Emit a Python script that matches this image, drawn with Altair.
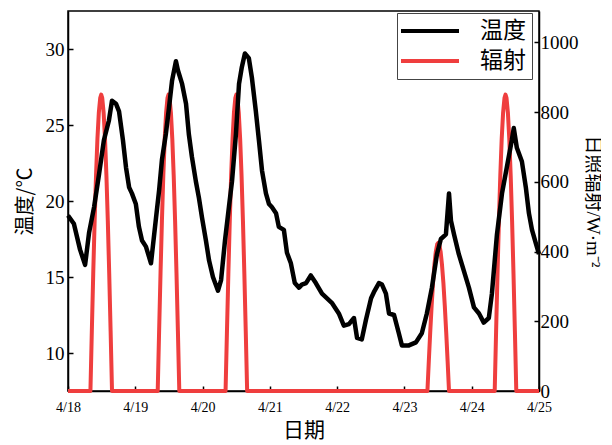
import altair as alt
import pandas as pd

# Temperature (hours since 4/18 00:00, degC)
temp_hours = [0, 2.1, 4.3, 6.1, 7.5, 9.3, 11.1, 12.8, 14.6, 15.7, 17.1, 18.2, 19.6, 20.7, 21.8, 22.8,
              24.2, 25.3, 26.4, 27.8, 29.6, 31.4, 32.5, 33.5, 34.9, 36.0, 37.1, 38.5, 39.2, 40.7, 42.1,
              43.1, 44.2, 45.6, 46.7, 47.8, 49.2, 50.3, 51.7, 53.5, 54.6, 56.0, 57.4, 58.5, 59.9, 61.0,
              62.0, 63.1, 64.5, 65.6, 67.0, 68.1, 69.2, 70.6, 71.7, 72.7, 74.2, 75.2, 77.0, 78.1, 79.5,
              80.9, 82.4, 83.4, 84.9, 86.6, 88.4, 90.6, 94.1, 96.6, 98.4, 100.2, 102.0, 103.1, 104.8,
              106.3, 108.1, 109.1, 110.9, 112.0, 113.4, 114.5, 116.3, 118.0, 119.1, 121.6, 124.1, 126.2,
              128.0, 129.8, 131.6, 133.0, 134.8, 135.9, 136.6, 137.7, 139.4, 141.2, 143.0, 144.8, 146.6,
              148.3, 150.1, 151.2, 153.0, 154.8, 156.5, 158.3, 159.0, 160.1, 161.9, 163.3, 164.4, 165.5,
              166.9, 168.0]
temp_values = [19.05, 18.5, 16.8, 15.8, 17.9, 19.6, 21.8, 24.0, 25.3, 26.6, 26.4, 25.9, 24.0, 22.2, 20.9, 20.5,
               19.8, 18.3, 17.4, 17.0, 15.9, 18.9, 20.7, 22.7, 24.4, 26.1, 27.9, 29.2, 28.6, 27.7, 26.4,
               24.4, 22.9, 21.3, 20.2, 18.9, 17.4, 16.1, 15.0, 14.1, 14.8, 17.4, 19.6, 21.3, 24.4, 27.7,
               28.8, 29.7, 29.4, 28.1, 25.9, 24.0, 22.0, 20.5, 19.8, 19.6, 19.2, 18.3, 18.1, 16.6, 15.9,
               14.6, 14.3, 14.5, 14.6, 15.1, 14.6, 13.9, 13.3, 12.6, 11.8, 11.9, 12.3, 11.0, 10.9,
               12.2, 13.6, 14.0, 14.6, 14.5, 13.9, 12.6, 12.5, 11.3, 10.5, 10.5, 10.7, 11.3,
               12.6, 14.3, 16.5, 17.5, 17.8, 20.5, 18.7, 17.8, 16.5, 15.4, 14.3, 13.0, 12.6,
               12.0, 12.3, 13.9, 17.8, 20.5, 22.2, 24.0, 24.8, 23.5, 22.6, 20.9, 19.2, 18.1,
               17.2, 16.5]

# Solar radiation (hours since 4/18 00:00, W/m2)
rad_hours = [0,
             8.0, 8.5, 9.0, 9.5, 10.0, 10.5, 11.0, 11.5, 11.85, 12.2, 12.7, 13.2, 13.7, 14.2, 14.7, 15.2, 15.7,
             32.0, 32.5, 33.0, 33.5, 34.0, 34.5, 35.0, 35.5, 35.85, 36.2, 36.7, 37.2, 37.7, 38.2, 38.7, 39.2, 39.7,
             56.2, 56.7, 57.2, 57.7, 58.2, 58.7, 59.2, 59.7, 60.05, 60.4, 60.9, 61.4, 61.9, 62.4, 62.9, 63.4, 63.9,
             128.2, 128.7, 129.2, 129.7, 130.2, 130.7, 131.2, 131.7, 132.05, 132.4, 132.9, 133.4, 133.9, 134.4, 134.9, 135.4, 135.9,
             152.2, 152.7, 153.2, 153.7, 154.2, 154.7, 155.2, 155.7, 156.05, 156.4, 156.9, 157.4, 157.9, 158.4, 158.9, 159.4, 159.9,
             168]
rad_values = [0,
              0, 172, 337, 488, 619, 724, 799, 841, 850, 841, 799, 724, 619, 488, 337, 172, 0,
              0, 172, 337, 488, 619, 724, 799, 841, 850, 841, 799, 724, 619, 488, 337, 172, 0,
              0, 172, 337, 488, 619, 724, 799, 841, 850, 841, 799, 724, 619, 488, 337, 172, 0,
              0, 86, 169, 244, 310, 362, 400, 421, 425, 421, 400, 362, 310, 244, 169, 86, 0,
              0, 172, 337, 488, 619, 724, 799, 841, 850, 841, 799, 724, 619, 488, 337, 172, 0,
              0]

series_names = ["温度", "辐射"]
series_colors = ["#000000", "#ef3e3e"]
x_ticks = [0, 24, 48, 72, 96, 120, 144, 168]

temp_df = pd.DataFrame({"h": temp_hours, "v": temp_values, "s": series_names[0]})
rad_df = pd.DataFrame({"h": rad_hours, "v": rad_values, "s": series_names[1]})

SERIF = "Liberation Serif, 'Noto Sans CJK SC'"
CJK = "'Noto Sans CJK SC'"

x_enc = alt.X("h:Q", scale=alt.Scale(domain=[0, 168], nice=False, zero=False),
              axis=alt.Axis(values=x_ticks, labelExpr="'4/' + (18 + datum.value / 24)",
                            title="日期", titleFont=CJK, titleFontSize=21, titleFontWeight="normal",
                            labelFont=SERIF, labelFontSize=14, labelColor="black",
                            tickSize={"expr": "-5"}, labelPadding=14, titlePadding=5,
                            domainColor="black", tickColor="black", grid=False, labelFlush=False))

color_enc = alt.Color("s:N", scale=alt.Scale(domain=series_names, range=series_colors),
                      legend=alt.Legend(title=None, orient="none", legendX=329, legendY=2,
                                        symbolType="M-1.4,0H4.4", symbolSize=400, symbolStrokeWidth=4,
                                        labelFont=CJK, labelFontSize=23, labelColor="black",
                                        strokeColor="#444", padding=6, rowPadding=6,
                                        labelOffset=53))

rad = alt.Chart(rad_df).mark_line(strokeWidth=4, strokeJoin="round").encode(
    x=x_enc,
    y=alt.Y("v:Q", scale=alt.Scale(domain=[0, 1090], nice=False),
            axis=alt.Axis(orient="right", values=[0, 200, 400, 600, 800, 1000], format="d",
                          title="日照辐射/W·m⁻²", titleFont=SERIF, titleFontSize=19,
                          titleFontWeight="normal", labelFont=SERIF, labelFontSize=19,
                          labelColor="black", tickSize={"expr": "-5"}, labelPadding=6,
                          titlePadding=4, domainColor="black", tickColor="black", grid=False)),
    color=color_enc,
)

temp = alt.Chart(temp_df).mark_line(strokeWidth=4.5, strokeJoin="round").encode(
    x=x_enc,
    y=alt.Y("v:Q", scale=alt.Scale(domain=[7.5, 32.5], nice=False, zero=False),
            axis=alt.Axis(orient="left", values=[10, 15, 20, 25, 30],
                          title="温度/℃", titleFont=CJK, titleFontSize=20,
                          titleFontWeight="normal", labelFont=SERIF, labelFontSize=19,
                          labelColor="black", tickSize={"expr": "-5"}, labelPadding=9,
                          titlePadding=10, domainColor="black", tickColor="black", grid=False)),
    color=color_enc,
)

chart = alt.layer(rad, temp).resolve_scale(y="independent").properties(
    width=471, height=380,
    padding={"left": 7, "top": 3, "right": 0, "bottom": 0},
).configure_view(stroke="black", strokeWidth=1.5).configure_axis(domainWidth=1.5, tickWidth=1.5)

chart.save("out.html", embed_options={"renderer": "svg", "actions": False})
